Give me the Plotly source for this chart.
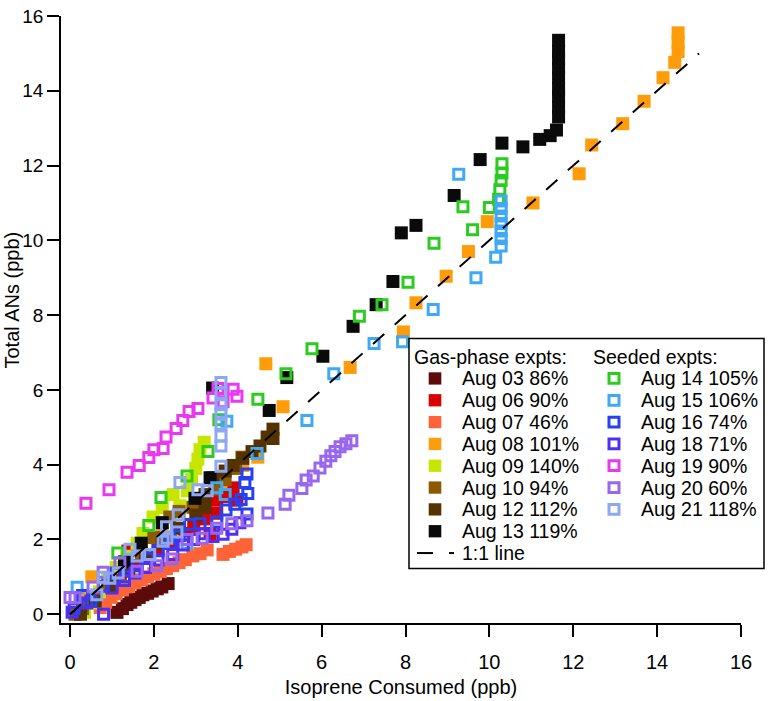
import plotly.graph_objects as go

# ---------------- data ----------------
names = ["Aug 03 86%", "Aug 06 90%", "Aug 07 46%", "Aug 08 101%", "Aug 09 140%",
         "Aug 10 94%", "Aug 12 112%", "Aug 13 119%",
         "Aug 14 105%", "Aug 15 106%", "Aug 16 74%", "Aug 18 71%", "Aug 19 90%",
         "Aug 20 60%", "Aug 21 118%"]
colors = ["#5C0A0A", "#D90000", "#FF6338", "#FF9C0A", "#C6E500", "#8C5A00", "#553300", "#0A0A0A",
          "#2BCB1F", "#40A9F5", "#2640F2", "#4F30F2", "#E839F0", "#9966F0", "#8DA8F2"]
seeded = [False] * 8 + [True] * 7

aug03_x = [1.12, 1.25, 1.36, 1.45, 1.55, 1.65, 1.74, 1.85, 1.96, 2.08, 2.19, 2.34]
aug03_y = [0.05, 0.15, 0.26, 0.32, 0.39, 0.45, 0.52, 0.56, 0.62, 0.68, 0.73, 0.82]

aug06_x = [0.6, 0.9, 1.2, 1.38, 1.6, 1.85, 2.1, 2.4, 2.74, 2.95, 3.2, 3.34, 3.5, 3.5, 3.7, 3.89, 3.98]
aug06_y = [0.45, 0.7, 1.0, 1.69, 1.3, 1.5, 1.75, 1.95, 2.16, 2.35, 2.55, 2.16, 2.7, 3.05, 3.15, 3.38, 3.05]

aug07_x = [0.72, 0.85, 0.98, 1.1, 1.25, 1.4, 1.55, 1.7, 1.85, 2.0, 2.15, 2.3, 2.45, 2.6, 2.75,
           2.93, 3.1, 3.27, 3.65, 3.8, 3.95, 4.1, 4.2]
aug07_y = [0.18, 0.32, 0.45, 0.55, 0.65, 0.74, 0.84, 0.92, 1.0, 1.08, 1.14, 1.22, 1.3, 1.38, 1.46,
           1.56, 1.62, 1.72, 1.6, 1.68, 1.74, 1.8, 1.86]

aug08_x = [0.3, 0.52, 1.3, 2.2, 3.0, 3.6, 4.12, 4.48, 4.67, 5.08, 6.68, 7.95, 8.25, 8.97, 9.5, 9.95,
           11.04, 12.14, 12.44, 13.18, 13.69, 14.14, 14.42, 14.5, 14.5, 14.5]
aug08_y = [0.45, 1.0, 1.25, 2.15, 2.9, 3.5, 3.98, 4.2, 6.7, 5.55, 6.6, 7.55, 8.33, 9.04, 9.7, 10.5,
           11.0, 11.78, 12.55, 13.12, 13.72, 14.35, 14.76, 15.05, 15.3, 15.55]

aug09_x = [0.35, 0.5, 0.7, 0.9, 1.1, 1.35, 1.6, 1.74, 1.98, 2.2, 2.46, 2.62, 2.8, 2.9, 3.0, 3.05, 3.1, 3.2]
aug09_y = [0.05, 0.3, 0.6, 0.95, 1.25, 1.55, 1.9, 2.16, 2.6, 2.85, 3.2, 2.9, 3.3, 3.6, 3.9, 4.15, 4.4, 4.6]

aug10_x = [0.12, 0.3, 0.6, 0.9, 1.3, 1.7, 2.0, 2.38, 2.6, 2.93, 3.2, 3.45, 3.7, 3.95, 4.1]
aug10_y = [0.0, 0.15, 0.45, 0.8, 1.25, 1.65, 2.05, 2.6, 2.75, 2.86, 3.1, 3.35, 3.6, 3.9, 4.2]

aug12_x = [0.25, 0.6, 1.0, 1.4, 1.8, 2.2, 2.6, 3.0, 3.22, 3.22, 3.41, 3.7, 3.89, 4.12, 4.34, 4.53,
           4.7, 4.84, 4.84]
aug12_y = [0.0, 0.35, 0.75, 1.15, 1.5, 1.9, 2.3, 2.65, 2.86, 3.2, 3.65, 3.83, 3.98, 4.17, 4.35, 4.5,
           4.74, 4.95, 4.7]

aug13_x = [1.3, 1.7, 2.2, 2.98, 3.34, 3.4, 4.75, 5.17, 6.03, 6.75, 7.3, 7.7, 7.9, 8.25, 9.16, 9.78,
           10.3, 10.8, 11.2, 11.45, 11.6, 11.65, 11.65, 11.65, 11.65, 11.65, 11.65, 11.65, 11.65, 11.65]
aug13_y = [1.4, 1.9, 2.45, 3.1, 3.65, 6.05, 5.45, 6.33, 6.9, 7.7, 8.28, 8.9, 10.2, 10.4, 11.2, 12.16,
           12.6, 12.5, 12.7, 12.8, 12.95, 13.3, 13.55, 13.85, 14.05, 14.35, 14.6, 14.85, 15.05, 15.35]

aug14_x = [1.14, 1.88, 2.17, 2.79, 3.29, 3.55, 4.48, 5.15, 5.77, 6.9, 7.44, 8.06, 8.68, 9.37, 9.6,
           10.0, 10.22, 10.25, 10.28, 10.3, 10.3]
aug14_y = [1.64, 2.37, 3.12, 3.7, 4.35, 5.2, 5.75, 6.43, 7.1, 7.97, 8.28, 8.88, 9.92, 10.9, 10.28,
           10.88, 11.1, 11.35, 11.6, 11.8, 12.05]

aug15_x = [0.17, 2.79, 3.5, 3.7, 3.74, 4.46, 5.65, 6.29, 7.25, 7.93, 8.66, 9.27, 9.68, 10.15,
           10.28, 10.28, 10.28, 10.28, 10.28, 10.28, 10.28]
aug15_y = [0.72, 1.9, 3.38, 3.2, 5.16, 4.3, 5.18, 6.43, 7.24, 7.29, 8.15, 11.77, 9.0, 9.55,
           9.85, 10.05, 10.25, 10.45, 10.65, 10.85, 11.05]

aug16_x = [0.1, 0.3, 0.5, 0.8, 1.1, 1.3, 1.6, 1.9, 2.1, 2.4, 2.6, 2.85, 3.1, 3.5, 3.72, 3.93, 4.08,
           4.22, 4.24, 4.17, 4.22]
aug16_y = [0.15, 0.5, 0.35, 0.75, 1.1, 1.0, 1.3, 1.5, 1.7, 1.9, 2.1, 2.4, 2.42, 2.47, 2.79, 2.94, 3.07,
           2.68, 3.23, 3.52, 3.75]

aug18_x = [0.05, 0.4, 0.8, 1.0, 1.3, 1.55, 1.8, 2.1, 2.45, 2.7, 2.95, 3.2, 3.41, 3.65, 3.86, 4.05]
aug18_y = [0.05, 0.3, 0.0, 0.7, 0.9, 1.1, 1.25, 1.45, 1.6, 1.85, 2.0, 2.15, 2.08, 2.14, 2.27, 2.45]

aug19_x = [0.38, 0.93, 1.36, 1.65, 1.88, 2.0, 2.22, 2.29, 2.53, 2.69, 2.84, 3.05, 3.41, 3.53, 3.62,
           3.65, 3.89, 3.98]
aug19_y = [2.97, 3.33, 3.8, 3.98, 4.19, 4.4, 4.43, 4.74, 4.97, 5.18, 5.42, 5.5, 5.78, 6.04, 5.91,
           5.68, 6.02, 5.83]

aug20_x = [0.0, 0.12, 0.55, 0.79, 1.19, 1.6, 2.07, 2.43, 2.79, 3.15, 3.5, 3.86, 4.22, 4.72, 5.13,
           5.22, 5.53, 5.63, 5.8, 5.96, 6.1, 6.22, 6.32, 6.44, 6.58, 6.72]
aug20_y = [0.45, 0.44, 0.73, 1.12, 1.38, 1.15, 1.3, 1.48, 2.0, 2.03, 2.3, 2.42, 2.5, 2.71, 2.94,
           3.18, 3.36, 3.59, 3.7, 3.91, 4.09, 4.24, 4.35, 4.48, 4.56, 4.64]

aug21_x = [0.64, 0.79, 0.95, 1.15, 1.43, 1.6, 1.9, 2.22, 2.31, 2.55, 2.3, 2.58, 2.62, 3.05, 3.27,
           3.6, 3.6, 3.6, 3.6, 3.6, 3.6, 3.6, 3.6]
aug21_y = [0.52, 0.99, 0.96, 1.1, 1.74, 1.56, 1.6, 1.95, 2.03, 2.2, 2.34, 2.66, 3.52, 3.33, 3.3,
           3.96, 4.5, 4.77, 5.08, 5.39, 5.6, 5.91, 6.2]

one_to_one = [0, 15]

x_ticks = [0, 2, 4, 6, 8, 10, 12, 14, 16]
y_ticks = [0, 2, 4, 6, 8, 10, 12, 14, 16]

series_x = [aug03_x, aug06_x, aug07_x, aug08_x, aug09_x, aug10_x, aug12_x, aug13_x,
            aug14_x, aug15_x, aug16_x, aug18_x, aug19_x, aug20_x, aug21_x]
series_y = [aug03_y, aug06_y, aug07_y, aug08_y, aug09_y, aug10_y, aug12_y, aug13_y,
            aug14_y, aug15_y, aug16_y, aug18_y, aug19_y, aug20_y, aug21_y]

# ---------------- figure ----------------
W, H = 773, 701
ML, MR, MT, MB = 61, 32, 6, 72
PW, PH = W - ML - MR, H - MT - MB
FONT = "Liberation Sans, Arial, Helvetica, sans-serif"
LEG_FONT = dict(family=FONT, size=19.5, color="black")

fig = go.Figure()
for nm, col, sd, xs, ys in zip(names, colors, seeded, series_x, series_y):
    if sd:
        marker = dict(symbol="square-open", size=10, color=col, line=dict(color=col, width=3))
    else:
        marker = dict(symbol="square", size=13, color=col, line=dict(width=0))
    fig.add_trace(go.Scatter(x=xs, y=ys, mode="markers", name=nm, marker=marker,
                             showlegend=False))

fig.add_trace(go.Scatter(x=one_to_one, y=one_to_one, mode="lines", name="1:1 line",
                         line=dict(color="black", width=2, dash="15px,14px"), showlegend=False))

# pixel -> paper helpers (for the legend box)
def px(xp):
    return (xp - ML) / PW

def py(yp):
    return (H - MB - yp) / PH

shapes = []
annotations = []
shapes.append(dict(type="rect", xref="paper", yref="paper", x0=px(409), x1=px(764),
                   y0=py(573), y1=py(337), line=dict(color="black", width=1.5),
                   fillcolor="white", layer="above"))
annotations.append(dict(text="Gas-phase expts:", xref="paper", yref="paper", x=px(412), y=py(356),
                        xanchor="left", yanchor="middle", showarrow=False, font=LEG_FONT))
annotations.append(dict(text="Seeded expts:", xref="paper", yref="paper", x=px(591), y=py(356),
                        xanchor="left", yanchor="middle", showarrow=False, font=LEG_FONT))

gas = [i for i in range(len(names)) if not seeded[i]]
sdd = [i for i in range(len(names)) if seeded[i]]
ROW0, DY = 378, 22.4
for col_idx, idxs, mx, tx in [(0, gas, 435, 460), (1, sdd, 614, 639)]:
    for r, i in enumerate(idxs):
        yc = ROW0 + DY * r
        if seeded[i]:
            h = 5
            shapes.append(dict(type="rect", xref="paper", yref="paper",
                               x0=px(mx - h), x1=px(mx + h), y0=py(yc + h), y1=py(yc - h),
                               line=dict(color=colors[i], width=3), fillcolor="white",
                               layer="above"))
        else:
            h = 6.3
            shapes.append(dict(type="rect", xref="paper", yref="paper",
                               x0=px(mx - h), x1=px(mx + h), y0=py(yc + h), y1=py(yc - h),
                               line=dict(width=0), fillcolor=colors[i], layer="above"))
        annotations.append(dict(text=names[i], xref="paper", yref="paper", x=px(tx), y=py(yc),
                                xanchor="left", yanchor="middle", showarrow=False, font=LEG_FONT))

# 1:1 line legend row
yc = ROW0 + DY * len(gas)
for a, b in [(417, 433), (449, 454)]:
    shapes.append(dict(type="line", xref="paper", yref="paper", x0=px(a), x1=px(b),
                       y0=py(yc), y1=py(yc), line=dict(color="black", width=2), layer="above"))
annotations.append(dict(text="1:1 line", xref="paper", yref="paper", x=px(460), y=py(yc),
                        xanchor="left", yanchor="middle", showarrow=False, font=LEG_FONT))

# y-axis title (placed as in the original, close to the tick-label column)
annotations.append(dict(text="Total ANs (ppb)", xref="paper", yref="paper", x=px(12), y=py(298),
                        xanchor="center", yanchor="middle", textangle=-90, showarrow=False,
                        font=dict(family=FONT, size=20, color="black")))

axis_common = dict(showgrid=False, zeroline=False, showline=True, linecolor="black",
                   linewidth=1.5, ticks="outside", ticklen=12, tickwidth=1.5, tickcolor="black",
                   mirror=False, ticklabeloverflow="allow")

fig.update_layout(
    width=W, height=H,
    margin=dict(l=ML, r=MR, t=MT, b=MB, pad=0),
    paper_bgcolor="white", plot_bgcolor="white",
    showlegend=False,
    font=dict(family=FONT, size=20, color="black"),
    xaxis=dict(range=[-9 / 41.94, 16], tickvals=x_ticks, ticktext=[str(t) for t in x_ticks],
               ticklabelstandoff=8, tickfont=dict(family=FONT, size=20, color="black"),
               title=dict(text="Isoprene Consumed (ppb)", font=dict(family=FONT, size=20),
                          standoff=8), **axis_common),
    yaxis=dict(range=[-9 / 38.4, 16], tickvals=y_ticks, ticktext=[str(t) for t in y_ticks],
               tickfont=dict(family=FONT, size=19, color="black"), **axis_common),
    shapes=shapes,
    annotations=annotations,
)

fig.write_html("out.html", config={"displayModeBar": False},
               post_script="document.body.style.margin='0px';")
